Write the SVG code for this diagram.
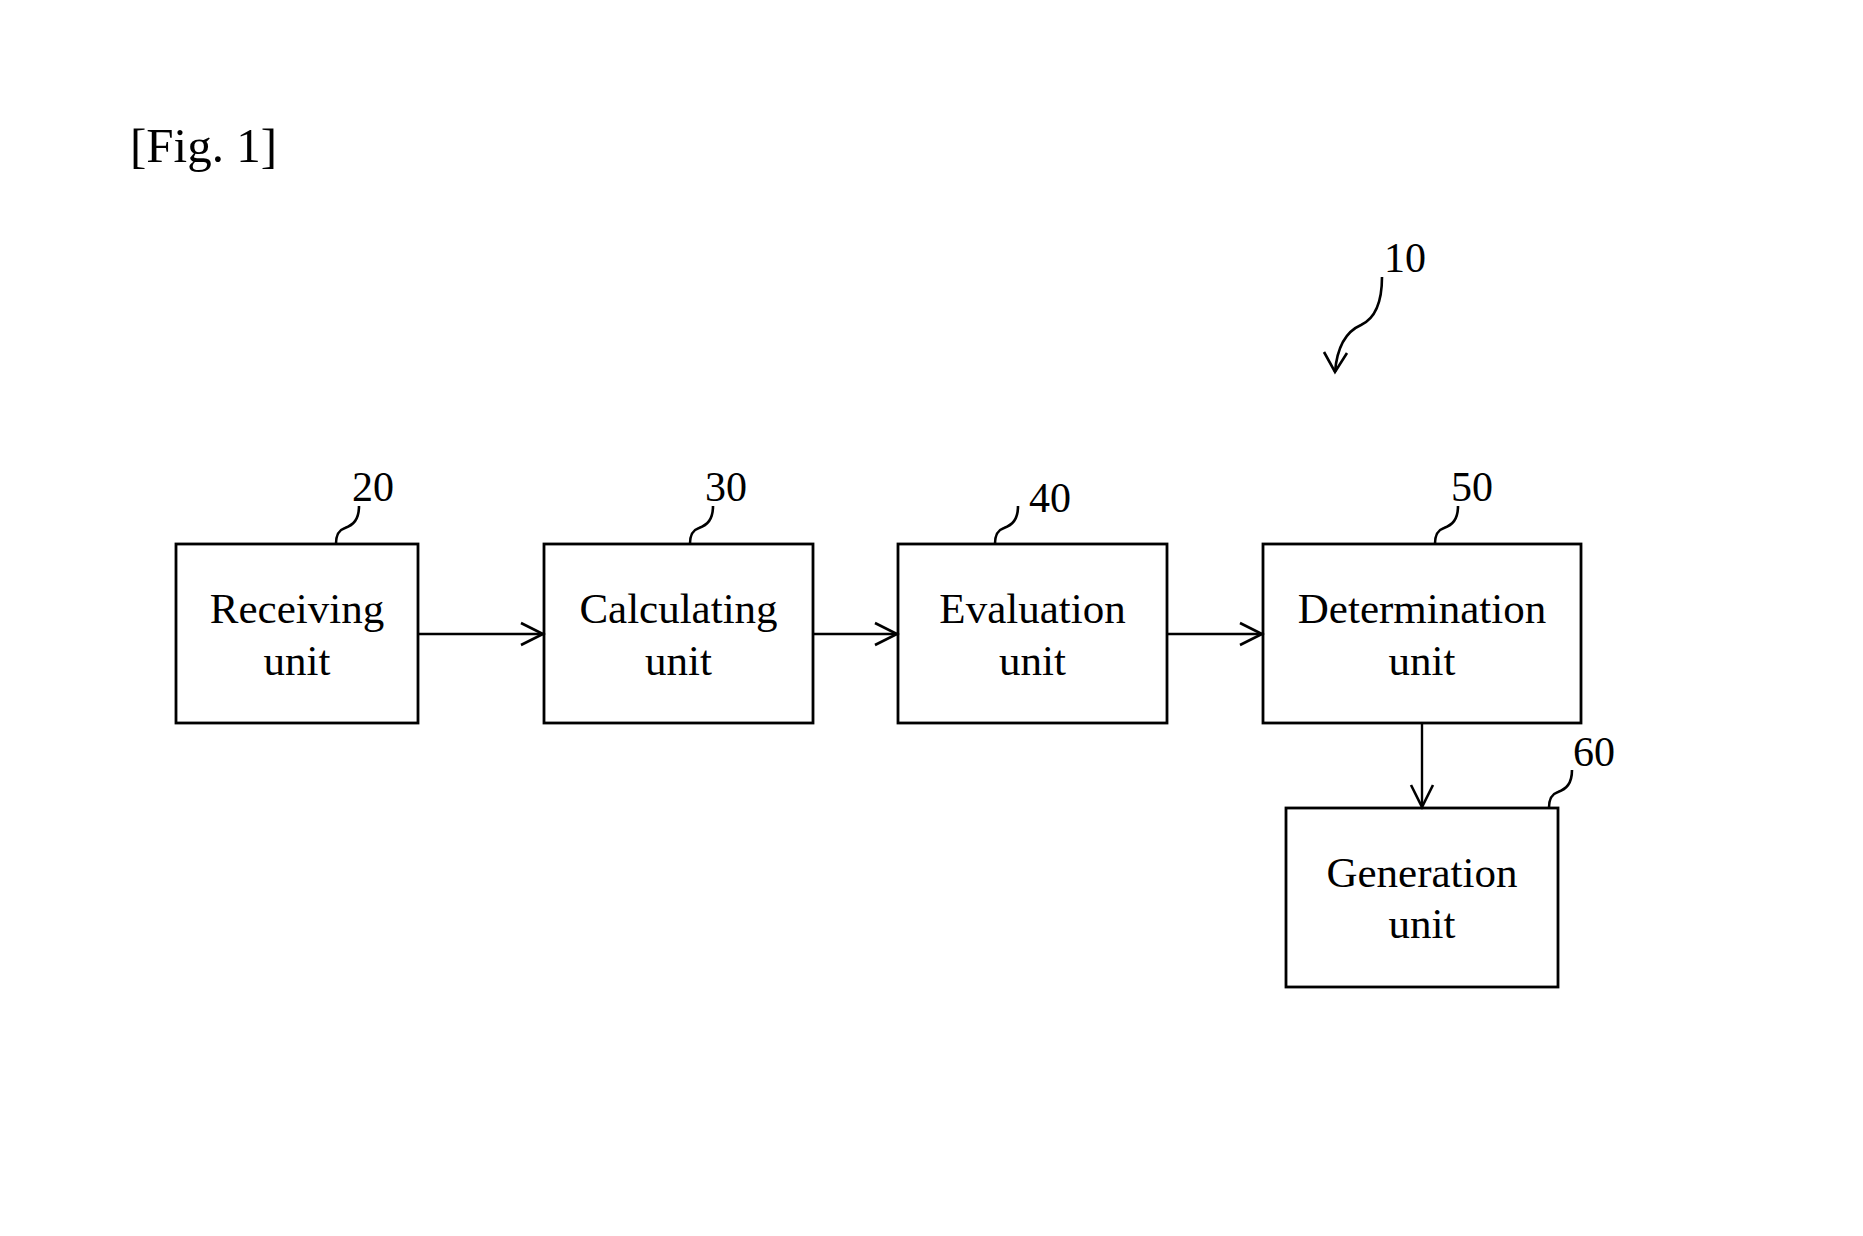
<svg xmlns="http://www.w3.org/2000/svg" width="1863" height="1236" viewBox="0 0 1863 1236">
<style>
.box{fill:#fff;stroke:#000;stroke-width:2.8}
.lbl{font-family:"Liberation Serif",serif;font-size:43px;text-anchor:middle;fill:#000}
.num{font-family:"Liberation Serif",serif;font-size:42px;fill:#000}
.ld{fill:none;stroke:#000;stroke-width:2.6}
.conn{fill:none;stroke:#000;stroke-width:2.4}
</style>
<defs>
<marker id="ah" markerUnits="userSpaceOnUse" markerWidth="30" markerHeight="30" viewBox="-26 -15 30 30" refX="0" refY="0" orient="auto">
<path d="M-22,-11 L0,0 L-22,11" fill="none" stroke="#000" stroke-width="2.6"/>
</marker>
<path id="lead" d="M0,0 C0,-10 3,-14 9,-16 C17,-19 23,-24 23,-38" class="ld"/>
</defs>
<rect width="1863" height="1236" fill="#fff"/>
<text x="130" y="162" font-family="Liberation Serif, serif" font-size="49" fill="#000">[Fig. 1]</text>

<g id="ref10">
<text x="1384" y="272" class="num">10</text>
<path d="M1382,277 C1382,302 1376,318 1361,325 C1345,332 1337,348 1335,372" class="ld"/>
<path d="M1324,352 L1335,372 L1347,353" class="ld"/>
</g>

<g id="node20">
<rect x="176" y="544" width="242" height="179" class="box"/>
<text x="297" y="623" class="lbl">Receiving</text>
<text x="297" y="675" class="lbl">unit</text>
<use href="#lead" transform="translate(336,544)"/>
<text x="352" y="501" class="num">20</text>
</g>

<g id="node30">
<rect x="544" y="544" width="269" height="179" class="box"/>
<text x="678.5" y="623" class="lbl">Calculating</text>
<text x="678.5" y="675" class="lbl">unit</text>
<use href="#lead" transform="translate(690,544)"/>
<text x="705" y="501" class="num">30</text>
</g>

<g id="node40">
<rect x="898" y="544" width="269" height="179" class="box"/>
<text x="1032.5" y="623" class="lbl">Evaluation</text>
<text x="1032.5" y="675" class="lbl">unit</text>
<use href="#lead" transform="translate(995,544)"/>
<text x="1029" y="512" class="num">40</text>
</g>

<g id="node50">
<rect x="1263" y="544" width="318" height="179" class="box"/>
<text x="1422" y="623" class="lbl">Determination</text>
<text x="1422" y="675" class="lbl">unit</text>
<use href="#lead" transform="translate(1435,544)"/>
<text x="1451" y="501" class="num">50</text>
</g>

<g id="node60">
<rect x="1286" y="808" width="272" height="179" class="box"/>
<text x="1422" y="887" class="lbl">Generation</text>
<text x="1422" y="938" class="lbl">unit</text>
<use href="#lead" transform="translate(1549,808)"/>
<text x="1573" y="766" class="num">60</text>
</g>

<g id="connectors">
<line x1="419" y1="634" x2="543" y2="634" class="conn" marker-end="url(#ah)"/>
<line x1="814" y1="634" x2="897" y2="634" class="conn" marker-end="url(#ah)"/>
<line x1="1168" y1="634" x2="1262" y2="634" class="conn" marker-end="url(#ah)"/>
<line x1="1422" y1="724" x2="1422" y2="807" class="conn" marker-end="url(#ah)"/>
</g>
</svg>
